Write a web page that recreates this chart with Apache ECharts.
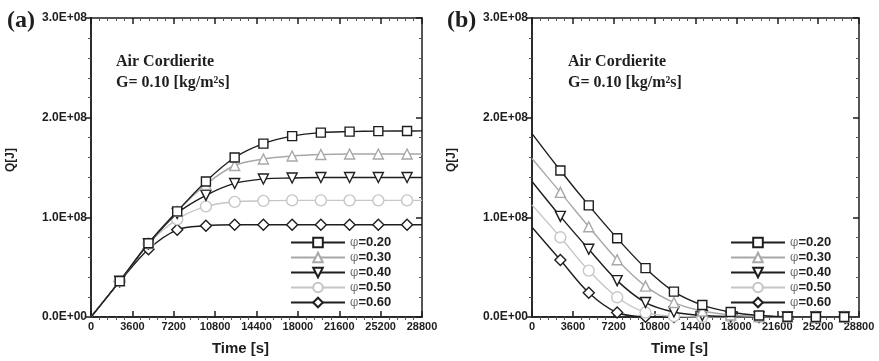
<!DOCTYPE html>
<html>
<head>
<meta charset="utf-8">
<script src="https://cdn.jsdelivr.net/npm/echarts@6/dist/echarts.min.js"></script>
<style>
  html, body { margin: 0; padding: 0; background: #fff; }
  #chart { width: 879px; height: 361px; }
</style>
</head>
<body>
<div id="chart"></div>
<script>
// time points of the computed curves [s]
const times = [0, 2500, 5000, 7500, 10000, 12500, 15000, 17500, 20000, 22500, 25000, 27500, 28800];
const seriesNames = ['φ=0.20', 'φ=0.30', 'φ=0.40', 'φ=0.50', 'φ=0.60'];
// values below are in 1E+08 J

// (a) stored energy, charging
const qA020 = [0, 0.36, 0.74, 1.06, 1.36, 1.60, 1.74, 1.815, 1.85, 1.86, 1.865, 1.866, 1.867];
const qA030 = [0, 0.36, 0.74, 1.06, 1.33, 1.52, 1.585, 1.615, 1.63, 1.635, 1.635, 1.635, 1.635];
const qA040 = [0, 0.36, 0.735, 1.04, 1.22, 1.34, 1.385, 1.395, 1.40, 1.40, 1.40, 1.40, 1.40];
const qA050 = [0, 0.36, 0.735, 0.98, 1.11, 1.155, 1.165, 1.17, 1.17, 1.17, 1.17, 1.17, 1.17];
const qA060 = [0, 0.355, 0.68, 0.875, 0.915, 0.925, 0.925, 0.925, 0.925, 0.925, 0.925, 0.925, 0.925];

// (b) stored energy, discharging
const qB020 = [1.84, 1.47, 1.12, 0.79, 0.49, 0.255, 0.12, 0.05, 0.015, 0.003, 0, 0, 0];
const qB030 = [1.59, 1.25, 0.906, 0.575, 0.31, 0.145, 0.06, 0.02, 0.005, 0, 0, 0, 0];
const qB040 = [1.36, 1.01, 0.68, 0.365, 0.145, 0.05, 0.015, 0.004, 0, 0, 0, 0, 0];
const qB050 = [1.125, 0.80, 0.465, 0.198, 0.045, 0.008, 0, 0, 0, 0, 0, 0, 0];
const qB060 = [0.90, 0.572, 0.244, 0.045, 0.003, 0, 0, 0, 0, 0, 0, 0, 0];

const lineColors = ['#1e1e1e', '#a8a8a8', '#1e1e1e', '#c6c6c6', '#1e1e1e'];
const symbols = ['rect', 'triangle', 'triangle', 'circle', 'diamond'];
const symbolSizes = [9, 10, 10, 11, 11];
const symbolRotates = [0, 0, 180, 0, 0];

const axisColor = '#1e1e1e';
const labelFont = { fontFamily: 'Arial', fontWeight: 'bold', color: '#1e1e1e' };
const majorTick = { show: true, inside: true, length: 6, lineStyle: { color: axisColor, width: 1.5 } };
const minorTick = { show: true, splitNumber: 5, length: 3, lineStyle: { color: '#555', width: 1 } };
const hiddenLabel = { show: false, inside: true }; // inside also turns the minor ticks inward

function sciLabel(v) {
  if (v === 0) return '0.0E+00';
  return v.toFixed(1) + 'E+08';
}

function pointsOf(values) {
  // no marker on the first and last point of each curve
  return values.map((v, i) => {
    const item = { value: [times[i], v] };
    if (i === 0 || i === values.length - 1) item.symbol = 'none';
    return item;
  });
}

// per grid: 0 bottom (labels), 1 bottom minor ticks, 2 top
function xAxesFor(g) {
  const common = {
    gridIndex: g, type: 'value', min: 0, max: 28800, interval: 3600,
    axisLine: { show: true, onZero: false, lineStyle: { color: axisColor, width: 1.5 } },
    splitLine: { show: false }
  };
  return [
    Object.assign({}, common, {
      position: 'bottom', axisTick: majorTick,
      axisLabel: Object.assign({ fontSize: 11, margin: 4, showMaxLabel: true, formatter: v => String(v) }, labelFont),
      name: 'Time [s]', nameLocation: 'middle', nameGap: 24,
      nameTextStyle: Object.assign({ fontSize: 15, padding: [0, 32, 0, 0] }, labelFont)
    }),
    Object.assign({}, common, {
      position: 'bottom', axisTick: { show: false }, minorTick: minorTick, axisLabel: hiddenLabel
    }),
    Object.assign({}, common, {
      position: 'top', axisTick: majorTick, minorTick: minorTick, axisLabel: hiddenLabel
    })
  ];
}

// per grid: 0 left (labels), 1 left minor ticks, 2 right
function yAxesFor(g) {
  const common = {
    gridIndex: g, type: 'value', min: 0, max: 3, interval: 1,
    axisLine: { show: true, onZero: false, lineStyle: { color: axisColor, width: 1.5 } },
    splitLine: { show: false }
  };
  return [
    Object.assign({}, common, {
      position: 'left',
      axisTick: { show: true, inside: false, length: 5, lineStyle: { color: axisColor, width: 1.5 } },
      axisLabel: Object.assign({ fontSize: 12, margin: 4, formatter: sciLabel }, labelFont),
      name: 'Q[J]', nameLocation: 'middle', nameGap: 74, nameRotate: 90,
      nameTextStyle: Object.assign({ fontSize: 12, padding: [0, 0, 0, 15] }, labelFont)
    }),
    Object.assign({}, common, {
      position: 'left', axisTick: { show: false }, minorTick: minorTick, axisLabel: hiddenLabel
    }),
    Object.assign({}, common, {
      position: 'right', axisTick: majorTick, minorTick: minorTick, axisLabel: hiddenLabel
    })
  ];
}

function seriesFor(g, sets) {
  return sets.map((vals, k) => ({
    type: 'line',
    name: seriesNames[k],
    xAxisIndex: g * 3,
    yAxisIndex: g * 3,
    data: pointsOf(vals),
    smooth: 0.35,
    symbol: symbols[k],
    symbolSize: symbolSizes[k],
    symbolRotate: symbolRotates[k],
    showAllSymbol: true,
    lineStyle: { color: lineColors[k], width: 1.4 },
    itemStyle: { color: '#fff', borderColor: lineColors[k], borderWidth: 1.4 },
    z: 10 - k
  }));
}

function legendAt(left) {
  return {
    data: seriesNames, orient: 'vertical', left: left, top: 236, padding: 0,
    itemWidth: 54, itemHeight: 12, itemGap: 2,
    formatter: name => '{p|φ}{b|' + name.slice(1) + '}',
    textStyle: {
      lineHeight: 12,
      rich: {
        p: { fontFamily: 'DejaVu Serif', fontSize: 12, lineHeight: 12, color: '#777' },
        b: { fontFamily: 'Arial', fontWeight: 'bold', fontSize: 13, lineHeight: 12, color: '#1e1e1e' }
      }
    }
  };
}

const chart = echarts.init(document.getElementById('chart'), null, { renderer: 'canvas' });
chart.setOption({
  animation: false,
  backgroundColor: '#fff',
  grid: [
    { left: 91, top: 18, width: 331, height: 299 },
    { left: 532, top: 18, width: 327, height: 299 }
  ],
  xAxis: xAxesFor(0).concat(xAxesFor(1)),
  yAxis: yAxesFor(0).concat(yAxesFor(1)),
  legend: [legendAt(290), legendAt(730)],
  series: seriesFor(0, [qA020, qA030, qA040, qA050, qA060])
    .concat(seriesFor(1, [qB020, qB030, qB040, qB050, qB060])),
  graphic: [
    { type: 'text', left: 7, top: 9, style: { text: '(a)', font: 'bold 24px "Liberation Serif"', fill: '#1e1e1e' } },
    { type: 'text', left: 447, top: 9, style: { text: '(b)', font: 'bold 24px "Liberation Serif"', fill: '#1e1e1e' } },
    { type: 'text', left: 116, top: 51, style: { text: 'Air Cordierite\nG= 0.10 [kg/m²s]', font: 'bold 16px "Liberation Serif"', lineHeight: 21, fill: '#1e1e1e' } },
    { type: 'text', left: 568, top: 51, style: { text: 'Air Cordierite\nG= 0.10 [kg/m²s]', font: 'bold 16px "Liberation Serif"', lineHeight: 21, fill: '#1e1e1e' } }
  ]
});
</script>
</body>
</html>
